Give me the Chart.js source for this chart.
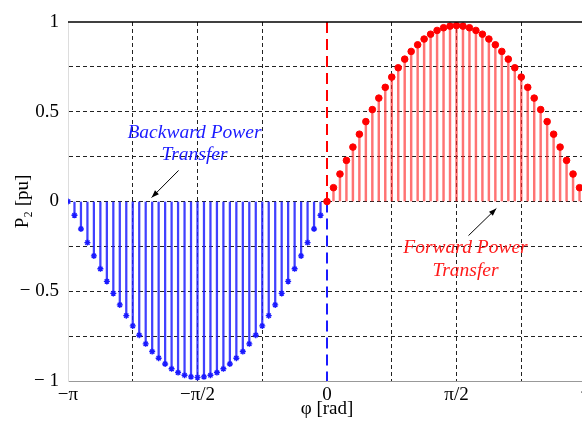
<!DOCTYPE html>
<html>
<head>
<meta charset="utf-8">
<script src="https://cdn.jsdelivr.net/npm/chart.js@4.4.1/dist/chart.umd.min.js"></script>
<style>
  html, body { margin: 0; padding: 0; background: #fff; overflow: hidden; }
  #wrap { width: 620px; height: 421px; }
</style>
</head>
<body>
<div id="wrap"><canvas id="p2Chart"></canvas></div>
<script>
// load angle (degrees) and received power P2 (pu)
const phiBlueDeg = [-180, -175.5, -171, -166.5, -162, -157.5, -153, -148.5, -144, -139.5, -135, -130.5, -126, -121.5, -117, -112.5, -108, -103.5, -99, -94.5, -90, -85.5, -81, -76.5, -72, -67.5, -63, -58.5, -54, -49.5, -45, -40.5, -36, -31.5, -27, -22.5, -18, -13.5, -9, -4.5, 0];
const p2Blue = [0, -0.077, -0.153, -0.229, -0.303, -0.375, -0.445, -0.512, -0.576, -0.636, -0.693, -0.745, -0.793, -0.836, -0.873, -0.905, -0.932, -0.953, -0.968, -0.977, -0.98, -0.977, -0.968, -0.953, -0.932, -0.905, -0.873, -0.836, -0.793, -0.745, -0.693, -0.636, -0.576, -0.512, -0.445, -0.375, -0.303, -0.229, -0.153, -0.077, 0];
const phiRedDeg = [0, 4.5, 9, 13.5, 18, 22.5, 27, 31.5, 36, 40.5, 45, 49.5, 54, 58.5, 63, 67.5, 72, 76.5, 81, 85.5, 90, 94.5, 99, 103.5, 108, 112.5, 117, 121.5, 126, 130.5, 135, 139.5, 144, 148.5, 153, 157.5, 162, 166.5, 171, 175.5, 180];
const p2Red = [0, 0.077, 0.153, 0.229, 0.303, 0.375, 0.445, 0.512, 0.576, 0.636, 0.693, 0.745, 0.793, 0.836, 0.873, 0.905, 0.932, 0.953, 0.968, 0.977, 0.98, 0.977, 0.968, 0.953, 0.932, 0.905, 0.873, 0.836, 0.793, 0.745, 0.693, 0.636, 0.576, 0.512, 0.445, 0.375, 0.303, 0.229, 0.153, 0.077, 0];

const xTickLabels = ['\u2212\u03c0', '', '\u2212\u03c0/2', '', '0', '', '\u03c0/2', '', '\u03c0'];
const yTickLabels = { '1': '1', '0.5': '0.5', '0': '0', '-0.5': '\u2212 0.5', '-1': '\u2212 1' };

const rad = d => d * Math.PI / 180;
const blue = phiBlueDeg.map((d, i) => ({ x: rad(d), y: p2Blue[i] }));
const red = phiRedDeg.map((d, i) => ({ x: rad(d), y: p2Red[i] }));

const serif = "'Liberation Serif', 'DejaVu Serif', serif";

// text labels and arrows, placed in data units
const notes = [
  { lines: ['Backward Power', 'Transfer'], x: -1.607, y: [0.385, 0.257], color: '#1a1aff',
    arrow: [-1.80, 0.173, -2.127, 0.022] },
  { lines: ['Forward Power', 'Transfer'], x: 1.68, y: [-0.257, -0.385], color: '#ff1a1a',
    arrow: [1.716, -0.19, 2.054, -0.039] }
];

const frameAndNotes = {
  id: 'frameAndNotes',
  afterDatasetsDraw(chart) {
    const { ctx, chartArea: a, scales: { x, y } } = chart;
    ctx.save();
    ctx.strokeStyle = '#000';
    ctx.lineWidth = 1.5;
    ctx.beginPath();
    ctx.moveTo(a.left, a.top);
    ctx.lineTo(a.right, a.top);
    ctx.stroke();

    notes.forEach(n => {
      ctx.fillStyle = n.color;
      ctx.font = 'italic 19.5px ' + serif;
      ctx.textAlign = 'center';
      ctx.textBaseline = 'middle';
      n.lines.forEach((t, i) => ctx.fillText(t, x.getPixelForValue(n.x), y.getPixelForValue(n.y[i])));
      const [x0, y0, x1, y1] = n.arrow;
      const px0 = x.getPixelForValue(x0), py0 = y.getPixelForValue(y0);
      const px1 = x.getPixelForValue(x1), py1 = y.getPixelForValue(y1);
      ctx.strokeStyle = '#000';
      ctx.fillStyle = '#000';
      ctx.lineWidth = 1;
      ctx.beginPath();
      ctx.moveTo(px0, py0);
      ctx.lineTo(px1, py1);
      ctx.stroke();
      const ang = Math.atan2(py1 - py0, px1 - px0);
      ctx.beginPath();
      ctx.moveTo(px1, py1);
      ctx.lineTo(px1 - 8 * Math.cos(ang - 0.35), py1 - 8 * Math.sin(ang - 0.35));
      ctx.lineTo(px1 - 8 * Math.cos(ang + 0.35), py1 - 8 * Math.sin(ang + 0.35));
      ctx.closePath();
      ctx.fill();
    });
    ctx.restore();
  }
};

new Chart(document.getElementById('p2Chart'), {
  type: 'bar',
  data: {
    datasets: [
      { type: 'line', data: red, showLine: false, pointStyle: 'circle', pointRadius: 3.3,
        pointBackgroundColor: '#ff0000', pointBorderColor: '#ff0000', order: 0 },
      { type: 'line', data: blue, showLine: false, pointStyle: 'star', pointRadius: 3,
        pointBorderWidth: 1.4, pointBorderColor: '#1a1aff', pointBackgroundColor: '#1a1aff', order: 0 },
      { type: 'line', data: [{ x: 0, y: 1 }, { x: 0, y: 0 }], borderColor: '#ff0000', borderWidth: 2,
        borderDash: [11, 6], pointRadius: 0, order: 1 },
      { type: 'line', data: [{ x: 0, y: 0 }, { x: 0, y: -1 }], borderColor: '#1a1aff', borderWidth: 2,
        borderDash: [11, 6], pointRadius: 0, order: 1 },
      { data: red, backgroundColor: 'rgba(255,40,40,0.65)', barThickness: 1.8, grouped: false, order: 2 },
      { data: blue, backgroundColor: 'rgba(30,30,255,0.85)', barThickness: 1.6, grouped: false, order: 2 }
    ]
  },
  options: {
    responsive: true,
    maintainAspectRatio: false,
    animation: false,
    layout: { padding: { top: 22, right: 34, left: 0, bottom: 0 } },
    plugins: { legend: { display: false }, tooltip: { enabled: false } },
    scales: {
      x: {
        type: 'linear',
        min: -Math.PI,
        max: Math.PI,
        offset: false,
        z: 1,
        afterBuildTicks(s) {
          s.ticks = xTickLabels.map((_, i) => ({ value: -Math.PI + i * Math.PI / 4 }));
        },
        afterFit(s) { s.height = 40; },
        ticks: {
          autoSkip: false,
          maxRotation: 0,
          padding: 3,
          color: '#000',
          font: { family: serif, size: 19 },
          callback: (v, i) => xTickLabels[i]
        },
        grid: {
          offset: false,
          drawTicks: false,
          lineWidth: 1,
          color: c => (c.index === 0 || c.index === 4 || c.index === 8) ? 'rgba(0,0,0,0)' : '#222'
        },
        border: { display: true, color: '#999', width: 1, dash: [4, 3] },
        title: {
          display: true,
          text: '\u03c6 [rad]',
          color: '#000',
          font: { family: serif, size: 19 },
          padding: { top: 0, bottom: 1 }
        }
      },
      y: {
        min: -1,
        max: 1,
        z: 1,
        afterFit(s) { s.width = 68; },
        ticks: {
          stepSize: 0.25,
          padding: 9,
          color: '#000',
          font: { family: serif, size: 19 },
          callback: v => yTickLabels[String(v)] || ''
        },
        grid: {
          drawTicks: false,
          lineWidth: 1,
          color: c => (c.tick.value === 1 || c.tick.value === -1) ? 'rgba(0,0,0,0)' : '#222'
        },
        border: { display: true, color: '#ddd', width: 1, dash: [4, 3] },
        title: {
          display: true,
          text: 'P\u2082 [pu]',
          color: '#000',
          font: { family: serif, size: 19 },
          padding: { top: 12, bottom: 0 }
        }
      }
    }
  },
  plugins: [frameAndNotes]
});
</script>
</body>
</html>
